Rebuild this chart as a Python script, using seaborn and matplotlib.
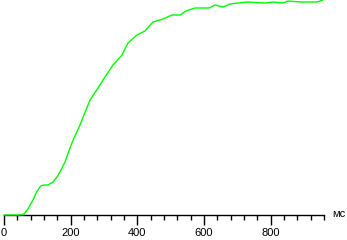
import matplotlib
matplotlib.use("Agg")
import matplotlib.pyplot as plt
import seaborn as sns
import pandas as pd
from matplotlib.ticker import MultipleLocator

time_ms = [0, 48, 60, 72, 87, 98, 110, 120, 132, 147, 159, 168, 183, 198, 210, 228,
           246, 258, 282, 303, 327, 354, 372, 399, 423, 447, 477, 504, 528, 546, 573,
           615, 633, 657, 678, 729, 783, 807, 837, 852, 888, 939, 957]
level = [0, 0, 1, 6, 15, 23, 29, 30, 30, 33, 38, 43, 53, 67, 77, 90,
         105, 115, 127, 138, 150, 160, 172, 180, 184, 193, 196, 200, 200, 204, 207,
         207, 210, 208, 211, 213, 212, 213, 212, 214, 213, 213, 215]
major_ticks = [0, 200, 400, 600, 800]
unit_label = "мс"

sns.set_style("white")
plt.rcParams['font.family'] = ['Liberation Sans', 'DejaVu Sans']

W, H = 347, 240
fig = plt.figure(figsize=(W / 100, H / 100), dpi=100)
ax = fig.add_axes([4 / W, 25 / H, 320 / W, 215 / H])

df = pd.DataFrame({"t": time_ms, "v": level})
sns.lineplot(data=df, x="t", y="v", ax=ax, color="#00ff00", linewidth=1.0,
             clip_on=False, zorder=3)

ax.set_xlim(0, 960)
ax.set_ylim(0, 215)
for s in ["top", "left", "right"]:
    ax.spines[s].set_visible(False)
ax.spines["bottom"].set_color("black")
ax.spines["bottom"].set_linewidth(1.0)
ax.spines["bottom"].set_zorder(2)

ax.set_xticks(major_ticks)
ax.set_xticklabels([str(t) for t in major_ticks])
ax.xaxis.set_minor_locator(MultipleLocator(40))
ax.tick_params(axis="x", which="major", length=7.2, width=1, color="black",
               direction="out", pad=2.5, labelsize=8, labelcolor="black", bottom=True)
ax.tick_params(axis="x", which="minor", length=3.6, width=1, color="black",
               direction="out", bottom=True)
ax.set_yticks([])
ax.set_xlabel("")
ax.set_ylabel("")
ax.text(332 / W, (240 - 214) / H, unit_label, transform=fig.transFigure,
        fontsize=8, ha="left", va="center", color="black")

fig.savefig("out.png", dpi=100)
